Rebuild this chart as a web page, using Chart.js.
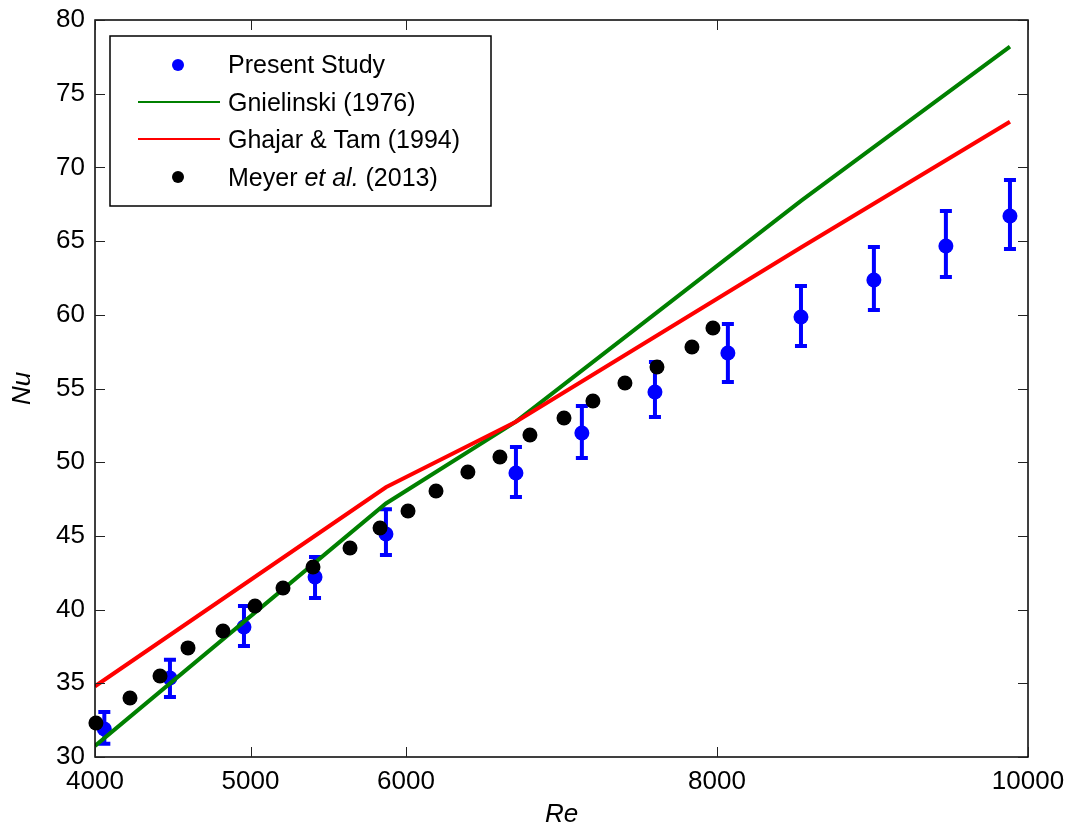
<!DOCTYPE html>
<html lang="en">

<head>
    <meta charset="UTF-8">
    <title>Nu x Re</title>
    <script src="https://cdn.jsdelivr.net/npm/chart.js"></script>
    <style>
        html,
        body {
            margin: 0;
            padding: 0;
            background: #ffffff;
        }
    </style>
</head>

<body>
    <canvas id="graficoNu" width="1071" height="830"></canvas>

    <script>
        // Present Study (with error bars)
        var reEstudo = [4060, 4482, 4958, 5415, 5871, 6707, 7131, 7601, 8070, 8540, 9009, 9472, 9884];
        var nuEstudo = [31.9, 35.36, 38.82, 42.21, 45.13, 49.27, 51.98, 54.76, 57.41, 59.85, 62.36, 64.67, 66.7];
        var nuEstudoMax = [33.05, 36.6, 40.24, 43.57, 46.8, 51.03, 53.81, 56.8, 59.38, 61.95, 64.6, 67.04, 69.15];
        var nuEstudoMin = [30.9, 34.07, 37.53, 40.79, 43.7, 47.64, 50.29, 53.07, 55.44, 57.88, 60.33, 62.56, 64.46];

        // correlations
        var reCorrelacao = [4000, 5871, 6707, 8540, 9884];
        var nuGnielinski = [30.75, 47.2, 52.75, 67.73, 78.2];
        var nuGhajar = [34.8, 48.3, 52.75, 64.57, 73.1];

        // Meyer et al. (2013)
        var reMeyer = [4006, 4225, 4418, 4598, 4823, 5029, 5209, 5402, 5640, 5833, 6013, 6193, 6398, 6604, 6797, 7016, 7202, 7408, 7614, 7839, 7974];
        var nuMeyer = [32.31, 34.0, 35.5, 37.4, 38.55, 40.24, 41.47, 42.89, 44.18, 45.54, 46.69, 48.05, 49.34, 50.35, 51.85, 53.0, 54.15, 55.37, 56.46, 57.82, 59.1];

        // axis ticks
        var xTicks = [4000, 5000, 6000, 8000, 10000];
        var yTicks = [30, 35, 40, 45, 50, 55, 60, 65, 70, 75, 80];

        var azul = '#0000ff';
        var verde = '#008000';
        var vermelho = '#ff0000';
        var preto = '#000000';
        var fonte = '"Liberation Sans", Arial, sans-serif';

        function pontos(xs, ys) {
            var lista = [];
            for (var i = 0; i < xs.length; i++) {
                lista.push({ x: xs[i], y: ys[i] });
            }
            return lista;
        }

        // error bars, box, inward ticks, axis titles and legend
        const extras = {
            id: 'extras',
            beforeDatasetDraw(chart, args) {
                if (args.index !== 0) return;
                const ctx = chart.ctx;
                const sx = chart.scales.x;
                const sy = chart.scales.y;
                ctx.save();
                ctx.strokeStyle = azul;
                ctx.lineWidth = 4;
                for (var i = 0; i < reEstudo.length; i++) {
                    var px = sx.getPixelForValue(reEstudo[i]);
                    var top = sy.getPixelForValue(nuEstudoMax[i]);
                    var bot = sy.getPixelForValue(nuEstudoMin[i]);
                    ctx.beginPath();
                    ctx.moveTo(px, top);
                    ctx.lineTo(px, bot);
                    ctx.moveTo(px - 6, top);
                    ctx.lineTo(px + 6, top);
                    ctx.moveTo(px - 6, bot);
                    ctx.lineTo(px + 6, bot);
                    ctx.stroke();
                }
                ctx.restore();
            },
            afterDraw(chart) {
                const ctx = chart.ctx;
                const a = chart.chartArea;
                const sx = chart.scales.x;
                const sy = chart.scales.y;
                ctx.save();

                // box
                ctx.strokeStyle = '#000';
                ctx.lineWidth = 1.5;
                ctx.strokeRect(a.left, a.top, a.right - a.left, a.bottom - a.top);

                // ticks pointing inside
                ctx.lineWidth = 1;
                ctx.strokeStyle = '#222';
                ctx.beginPath();
                xTicks.forEach(function (v) {
                    var px = Math.round(sx.getPixelForValue(v)) + 0.5;
                    ctx.moveTo(px, a.bottom);
                    ctx.lineTo(px, a.bottom - 10);
                    ctx.moveTo(px, a.top);
                    ctx.lineTo(px, a.top + 10);
                });
                yTicks.forEach(function (v) {
                    var py = Math.round(sy.getPixelForValue(v)) + 0.5;
                    ctx.moveTo(a.left, py);
                    ctx.lineTo(a.left + 10, py);
                    ctx.moveTo(a.right, py);
                    ctx.lineTo(a.right - 10, py);
                });
                ctx.stroke();

                // axis titles
                ctx.fillStyle = '#000';
                ctx.font = 'italic 26px ' + fonte;
                ctx.textAlign = 'center';
                ctx.textBaseline = 'middle';
                ctx.fillText('Re', (a.left + a.right) / 2, 815);
                ctx.save();
                ctx.translate(23, (a.top + a.bottom) / 2);
                ctx.rotate(-Math.PI / 2);
                ctx.fillText('Nu', 0, 0);
                ctx.restore();

                // legend
                var lx = 110, ly = 36, lw = 381, lh = 170;
                ctx.fillStyle = '#fff';
                ctx.fillRect(lx, ly, lw, lh);
                ctx.strokeStyle = '#000';
                ctx.lineWidth = 1.5;
                ctx.strokeRect(lx, ly, lw, lh);

                var linhas = [66, 104, 141, 179];
                ctx.fillStyle = azul;
                ctx.beginPath();
                ctx.arc(178, linhas[0] - 1, 6, 0, Math.PI * 2);
                ctx.fill();

                ctx.lineWidth = 2;
                ctx.strokeStyle = verde;
                ctx.beginPath();
                ctx.moveTo(138, linhas[1] - 2);
                ctx.lineTo(220, linhas[1] - 2);
                ctx.stroke();
                ctx.strokeStyle = vermelho;
                ctx.beginPath();
                ctx.moveTo(138, linhas[2] - 2);
                ctx.lineTo(220, linhas[2] - 2);
                ctx.stroke();

                ctx.fillStyle = preto;
                ctx.beginPath();
                ctx.arc(178, linhas[3] - 2, 6, 0, Math.PI * 2);
                ctx.fill();

                ctx.fillStyle = '#000';
                ctx.textAlign = 'left';
                ctx.font = '25px ' + fonte;
                ctx.fillText('Present Study', 228, linhas[0]);
                ctx.fillText('Gnielinski (1976)', 228, linhas[1]);
                ctx.fillText('Ghajar & Tam (1994)', 228, linhas[2]);
                var tx = 228;
                ctx.fillText('Meyer ', tx, linhas[3]);
                tx += ctx.measureText('Meyer ').width;
                ctx.font = 'italic 25px ' + fonte;
                ctx.fillText('et al.', tx, linhas[3]);
                tx += ctx.measureText('et al.').width;
                ctx.font = '25px ' + fonte;
                ctx.fillText(' (2013)', tx, linhas[3]);

                ctx.restore();
            }
        };

        const config = {
            type: 'scatter',
            data: {
                datasets: [
                    {
                        label: 'Present Study',
                        data: pontos(reEstudo, nuEstudo),
                        backgroundColor: azul,
                        borderColor: azul,
                        pointRadius: 7.5,
                        pointBorderWidth: 0,
                        clip: false,
                        order: 4
                    },
                    {
                        label: 'Gnielinski (1976)',
                        data: pontos(reCorrelacao, nuGnielinski),
                        showLine: true,
                        borderColor: verde,
                        borderWidth: 4,
                        pointRadius: 0,
                        tension: 0,
                        order: 3
                    },
                    {
                        label: 'Ghajar & Tam (1994)',
                        data: pontos(reCorrelacao, nuGhajar),
                        showLine: true,
                        borderColor: vermelho,
                        borderWidth: 4,
                        pointRadius: 0,
                        tension: 0,
                        order: 2
                    },
                    {
                        label: 'Meyer et al. (2013)',
                        data: pontos(reMeyer, nuMeyer),
                        backgroundColor: preto,
                        borderColor: preto,
                        pointRadius: 7.5,
                        pointBorderWidth: 0,
                        clip: false,
                        order: 1
                    }
                ]
            },
            options: {
                responsive: false,
                animation: false,
                layout: {
                    padding: { top: 20, right: 43, left: 0, bottom: 0 }
                },
                plugins: {
                    legend: { display: false },
                    tooltip: { enabled: false }
                },
                scales: {
                    x: {
                        type: 'linear',
                        min: 4000,
                        max: 10000,
                        afterBuildTicks: function (scale) {
                            scale.ticks = xTicks.map(function (v) { return { value: v }; });
                        },
                        afterFit: function (scale) {
                            scale.height = 73;
                            scale.paddingLeft = 0;
                            scale.paddingRight = 0;
                        },
                        grid: { display: false, drawTicks: false },
                        border: { display: false },
                        ticks: {
                            padding: 9,
                            maxRotation: 0,
                            autoSkip: false,
                            color: '#000',
                            font: { family: fonte, size: 26 },
                            callback: function (v) { return String(v); }
                        }
                    },
                    y: {
                        min: 30,
                        max: 80,
                        afterBuildTicks: function (scale) {
                            scale.ticks = yTicks.map(function (v) { return { value: v }; });
                        },
                        afterFit: function (scale) {
                            scale.width = 95;
                            scale.paddingTop = 0;
                            scale.paddingBottom = 0;
                        },
                        grid: { display: false, drawTicks: false },
                        border: { display: false },
                        ticks: {
                            padding: 10,
                            autoSkip: false,
                            color: '#000',
                            font: { family: fonte, size: 26 }
                        }
                    }
                }
            },
            plugins: [extras]
        };

        var grafico = new Chart(document.getElementById('graficoNu'), config);
    </script>
</body>

</html>
